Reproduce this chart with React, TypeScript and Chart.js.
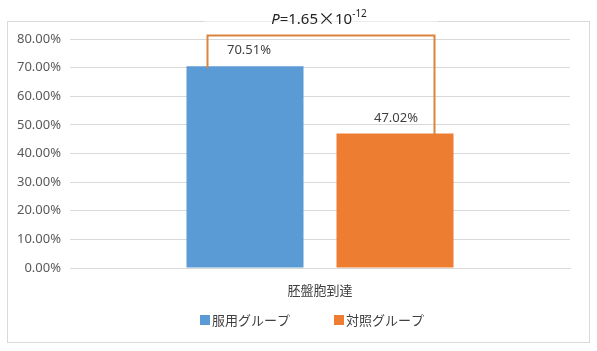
import React, { useEffect, useRef } from "react";
import { Chart, registerables } from "chart.js";

Chart.register(...registerables);

const categories = ["胚盤胞到達"];
const seriesNames = ["服用グループ", "対照グループ"];
const takingValues = [70.51];
const controlValues = [47.02];
const seriesColors = ["#5B9BD5", "#ED7D31"];
const yMax = 80;
const yStep = 10;
const bracketLevel = 81.4;
const pLabel = { italic: "P", rest: "=1.65", times: "×", base: "10", exp: "-12" };

const FONT = "'Noto Sans', 'Noto Sans CJK JP', sans-serif";
const JFONT = "'Noto Sans CJK JP', sans-serif";

export default function App() {
  const ref = useRef<HTMLCanvasElement>(null);
  useEffect(() => {
    document.body.style.margin = "0";
    const canvas = ref.current!;
    const deco = {
      id: "deco",
      beforeDraw(chart: any) {
        const c = chart.ctx;
        c.save();
        c.fillStyle = "#ffffff";
        c.fillRect(0, 0, chart.width, chart.height);
        c.strokeStyle = "#d9d9d9";
        c.lineWidth = 1;
        c.strokeRect(7.5, 21.5, 582, 321);
        c.restore();
      },
      afterDatasetsDraw(chart: any) {
        const c = chart.ctx;
        const y = chart.scales.y;
        const b0 = chart.getDatasetMeta(0).data[0];
        const b1 = chart.getDatasetMeta(1).data[0];
        // data labels
        c.save();
        c.fillStyle = "#404040";
        c.font = "13px " + FONT;
        c.textAlign = "center";
        c.textBaseline = "middle";
        c.fillText(takingValues[0].toFixed(2) + "%", b0.x + 4, b0.y - 16);
        c.fillText(controlValues[0].toFixed(2) + "%", b1.x + 1, b1.y - 15);
        // bracket
        const lx = b0.x - b0.width / 2 + 21;
        const rx = b1.x + b1.width / 2 - 19;
        const ty = Math.round(y.getPixelForValue(bracketLevel)) + 0.5;
        c.strokeStyle = "#D9843F";
        c.lineWidth = 2;
        c.beginPath();
        c.moveTo(lx, b0.y + 2);
        c.lineTo(lx, ty);
        c.lineTo(rx, ty);
        c.lineTo(rx, b1.y + 2);
        c.stroke();
        // P value text
        const cx = (lx + rx) / 2 - 2;
        const cy = ty - 18;
        c.font = "italic 15px " + FONT;
        const wP = c.measureText(pLabel.italic).width;
        c.font = "15px " + FONT;
        const wR = c.measureText(pLabel.rest).width;
        c.font = "17px " + JFONT;
        const wT = c.measureText(pLabel.times).width;
        c.font = "15px " + FONT;
        const wB = c.measureText(pLabel.base).width;
        c.font = "10px " + FONT;
        const wE = c.measureText(pLabel.exp).width;
        const total = wP + wR + wT + wB + wE;
        c.fillStyle = "#ffffff";
        c.fillRect(lx - 3, cy - 10, rx - lx + 6, 14);
        let x = cx - total / 2;
        c.fillStyle = "#222222";
        c.textAlign = "left";
        c.textBaseline = "alphabetic";
        const base = cy + 6;
        c.font = "italic 15px " + FONT;
        c.fillText(pLabel.italic, x, base); x += wP;
        c.font = "15px " + FONT;
        c.fillText(pLabel.rest, x, base); x += wR;
        c.font = "17px " + JFONT;
        c.fillText(pLabel.times, x, base + 1); x += wT;
        c.font = "15px " + FONT;
        c.fillText(pLabel.base, x, base); x += wB;
        c.font = "10px " + FONT;
        c.fillText(pLabel.exp, x, base - 7);
        c.restore();
      },
      afterDraw(chart: any) {
        const c = chart.ctx;
        c.save();
        c.font = "13px " + JFONT;
        c.textBaseline = "middle";
        c.textAlign = "left";
        const starts = [200, 334];
        const ly = 320;
        seriesNames.forEach((name, i) => {
          c.fillStyle = seriesColors[i];
          c.fillRect(starts[i], ly - 5, 10, 10);
          c.fillStyle = "#404040";
          c.fillText(name, starts[i] + 12, ly);
        });
        c.restore();
      },
    };
    const chart = new Chart(canvas, {
      type: "bar",
      data: {
        labels: categories,
        datasets: [
          { label: seriesNames[0], data: takingValues, backgroundColor: seriesColors[0] },
          { label: seriesNames[1], data: controlValues, backgroundColor: seriesColors[1] },
        ],
      },
      options: {
        animation: false,
        responsive: false,
        devicePixelRatio: 1,
        layout: { padding: { top: 39, right: 27, bottom: 0, left: 0 } },
        datasets: { bar: { categoryPercentage: 0.6, barPercentage: 0.78 } },
        plugins: { legend: { display: false }, tooltip: { enabled: false } },
        scales: {
          x: {
            grid: { display: false, drawTicks: false },
            border: { color: "#d9d9d9" },
            ticks: { color: "#404040", font: { size: 13, family: JFONT }, padding: 14 },
            afterFit(s: any) { s.height = 83; },
          },
          y: {
            min: 0,
            max: yMax,
            ticks: {
              stepSize: yStep,
              color: "#595959",
              font: { size: 13, family: FONT },
              padding: 9,
              callback: (v: any) => Number(v).toFixed(2) + "%",
            },
            grid: { color: "#d9d9d9", drawTicks: false },
            border: { display: false },
            afterFit(s: any) { s.width = 70; },
          },
        },
      },
      plugins: [deco],
    });
    return () => chart.destroy();
  }, []);
  return <canvas ref={ref} width={597} height={351} style={{ display: "block", width: 597, height: 351 }} />;
}
